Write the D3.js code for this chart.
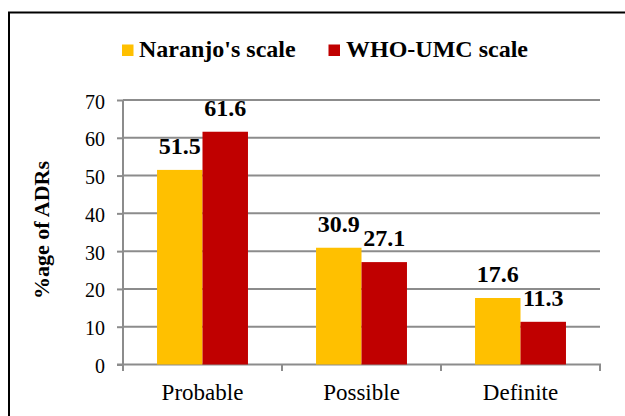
<!DOCTYPE html>
<html>
<head>
<meta charset="utf-8">
<script src="https://cdn.jsdelivr.net/npm/d3@7"></script>
<style>
  html, body { margin: 0; padding: 0; background: #fff; }
  svg { display: block; }
</style>
</head>
<body>
<script>
const categories = ["Probable", "Possible", "Definite"];
const seriesNames = ["Naranjo's scale", "WHO-UMC scale"];
const naranjo = [51.5, 30.9, 17.6];
const whoUmc = [61.6, 27.1, 11.3];
const yTicks = [0, 10, 20, 30, 40, 50, 60, 70];
const yTitle = "%age of ADRs";
const colors = ["#FFC000", "#C00000"];

(function () {
const W = 625, H = 416;
const FF = "'Liberation Serif'";
const svg = d3.select("body").append("svg").attr("width", W).attr("height", H);

svg.append("rect").attr("x", 9).attr("y", 12.5).attr("width", 700).attr("height", 500)
  .attr("fill", "none").attr("stroke", "#000").attr("stroke-width", 2);

const pLeft = 123, pRight = 600, pTop = 100, pBottom = 364.5;
const x0 = d3.scaleBand().domain(categories).range([pLeft, pRight]).paddingInner(0.428).paddingOuter(0.214);
const x1 = d3.scaleBand().domain([0, 1]).range([0, x0.bandwidth()]);
const y = d3.scaleLinear().domain([0, 70]).range([pBottom, pTop]);

const gridColor = "#8c8c8c";
svg.append("g").selectAll("line").data(yTicks.filter(d => d > 0)).join("line")
  .attr("x1", pLeft).attr("x2", pRight).attr("y1", d => y(d)).attr("y2", d => y(d))
  .attr("stroke", gridColor).attr("stroke-width", 2);

const yAxis = svg.append("g").attr("transform", `translate(${pLeft},0)`)
  .call(d3.axisLeft(y).tickValues(yTicks).tickSize(6).tickPadding(12).tickFormat(d3.format("d")));
yAxis.attr("font-family", null).attr("font-size", null);
yAxis.select(".domain").remove();
yAxis.selectAll(".tick line").attr("stroke", gridColor).attr("stroke-width", 2);
yAxis.selectAll(".tick text").style("font-family", FF).style("font-size", "20px").attr("fill", "#000").attr("dy", "0.4em");
svg.append("line").attr("x1", pLeft).attr("x2", pLeft).attr("y1", pTop).attr("y2", pBottom + 6.5)
  .attr("stroke", gridColor).attr("stroke-width", 2);

svg.append("line").attr("x1", pLeft - 6).attr("x2", pRight + 1).attr("y1", pBottom).attr("y2", pBottom)
  .attr("stroke", gridColor).attr("stroke-width", 2);
const bounds = categories.map(c => x0(c) - x0.step() * 0.214).concat([pRight]);
svg.append("g").selectAll("line").data(bounds).join("line")
  .attr("x1", d => d).attr("x2", d => d).attr("y1", pBottom).attr("y2", pBottom + 6.5)
  .attr("stroke", gridColor).attr("stroke-width", 2);

svg.append("g").selectAll("text").data(categories).join("text")
  .attr("x", d => x0(d) + x0.bandwidth() / 2).attr("y", 400)
  .attr("text-anchor", "middle").style("font-family", FF).style("font-size", "23px").attr("fill", "#000")
  .text(d => d);

const series = [naranjo, whoUmc];
series.forEach((vals, si) => {
  const g = svg.append("g");
  g.selectAll("rect").data(vals).join("rect")
    .attr("x", (d, i) => x0(categories[i]) + x1(si))
    .attr("y", d => y(d)).attr("width", x1.bandwidth()).attr("height", d => pBottom - y(d))
    .attr("fill", colors[si]);
  g.selectAll("text").data(vals).join("text")
    .attr("x", (d, i) => x0(categories[i]) + x1(si) + x1.bandwidth() / 2)
    .attr("y", d => y(d) - 16)
    .attr("text-anchor", "middle").style("font-family", FF).style("font-size", "24px")
    .style("font-weight", "bold").attr("fill", "#000")
    .text(d => d.toFixed(1));
});

svg.append("text").attr("transform", "translate(49,230) rotate(-90)")
  .attr("text-anchor", "middle").style("font-family", FF).style("font-size", "22px")
  .style("font-weight", "bold").attr("fill", "#000").text(yTitle);

const legendItems = [{ x: 122, tx: 139 }, { x: 328.5, tx: 346 }];
legendItems.forEach((it, i) => {
  svg.append("rect").attr("x", it.x).attr("y", 44.5).attr("width", 11.5).attr("height", 11.5).attr("fill", colors[i]);
  svg.append("text").attr("x", it.tx).attr("y", 56.5).style("font-family", FF).style("font-size", "24px")
    .style("font-weight", "bold").attr("fill", "#000").text(seriesNames[i]);
});
})();
</script>
</body>
</html>
